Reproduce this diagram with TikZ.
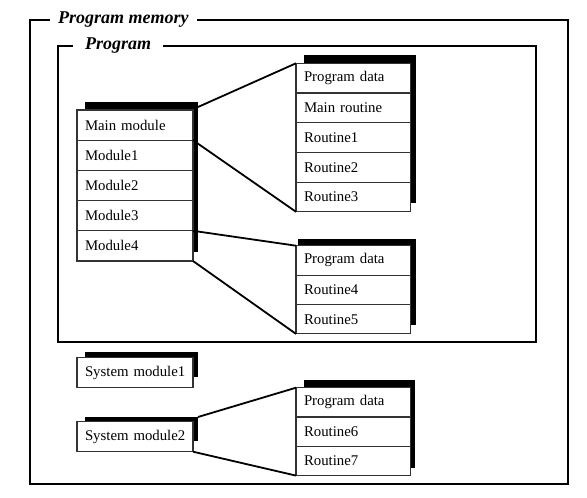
\documentclass[tikz,border=0pt]{standalone}
\usepackage{fontspec}
\setmainfont{Liberation Serif}
\begin{document}
\begin{tikzpicture}[x=1pt,y=-1pt,
  cell/.style={draw=black!80, line width=1.1pt, fill=white, anchor=north west, inner xsep=8pt, inner ysep=0pt, outer sep=0pt, align=left, font=\fontsize{14.8}{16}\selectfont},
  lcell/.style={cell, text width=100pt, minimum height=30.2pt},
  rcell/.style={cell, text width=98.5pt, minimum height=29.6pt},
  shade/.style={fill=black, draw=none, anchor=north west, inner sep=0pt, outer sep=0pt},
  frame/.style={draw=black, line width=1.6pt},
  link/.style={draw=black, line width=1.8pt},
  title/.style={fill=white, anchor=west, inner ysep=2pt, font=\fontsize{18}{20}\selectfont\bfseries\itshape}]

\useasboundingbox (0,0) rectangle (587,498);

% frames
\draw[frame] (30,20) rectangle (567.7,484);
\node[title, inner xsep=8pt] (tmem) at (50,20) {Program memory};
\draw[frame] (58,46) rectangle (535.7,342);
\node[title, inner xsep=12pt] (tprog) at (73,46) {Program};

% main stack
\node[shade, minimum width=113pt, minimum height=150pt] (shm) at (85,102) {};
\node[lcell] (mm) at (77,110) {Main module};
\node[lcell] (m1) at (77,140.2) {Module1};
\node[lcell] (m2) at (77,170.4) {Module2};
\node[lcell] (m3) at (77,200.6) {Module3};
\node[lcell] (m4) at (77,230.8) {Module4};

% stack 1
\node[shade, minimum width=112pt, minimum height=148pt] (sh1) at (304,55) {};
\node[rcell, minimum height=29.7pt] (p1) at (296,63.3) {Program data};
\node[rcell, minimum height=29.7pt] (r1) at (296,93) {Main routine};
\node[rcell, minimum height=29.7pt] (r2) at (296,122.7) {Routine1};
\node[rcell, minimum height=29.7pt] (r3a) at (296,152.4) {Routine2};
\node[rcell, minimum height=29.7pt] (r3) at (296,182.1) {Routine3};

% stack 2
\node[shade, minimum width=118pt, minimum height=86pt] (sh2) at (298,239) {};
\node[rcell, minimum height=29.4pt] (q1) at (296,245.7) {Program data};
\node[rcell, minimum height=29.4pt] (q2) at (296,275.1) {Routine4};
\node[rcell, minimum height=29.4pt] (q3) at (296,304.5) {Routine5};

% system modules
\node[shade, minimum width=113pt, minimum height=25pt] (shs1) at (85,352) {};
\node[lcell, minimum height=30pt] (sm1) at (77,357.7) {\mbox{System module1}};
\node[shade, minimum width=113pt, minimum height=24pt] (shs2) at (85,417) {};
\node[lcell, minimum height=30pt] (sm2) at (77,421.7) {\mbox{System module2}};

% stack 3
\node[shade, minimum width=111pt, minimum height=88pt] (sh3) at (304,380) {};
\node[rcell, minimum height=29.3pt] (s1) at (296,387.7) {Program data};
\node[rcell, minimum height=29.3pt] (s2) at (296,417) {Routine6};
\node[rcell, minimum height=29.3pt] (s3) at (296,446.3) {Routine7};

% connectors
\draw[link] ([yshift=-5pt]shm.north east) -- (p1.north west);
\draw[link] (mm.south east) -- (r3.south west);
\draw[link] (m4.north east) -- (q1.north west);
\draw[link] (m4.south east) -- (q3.south west);
\draw[link] (shs2.north east) -- (s1.north west);
\draw[link] (sm2.south east) -- (s3.south west);
\end{tikzpicture}
\end{document}
